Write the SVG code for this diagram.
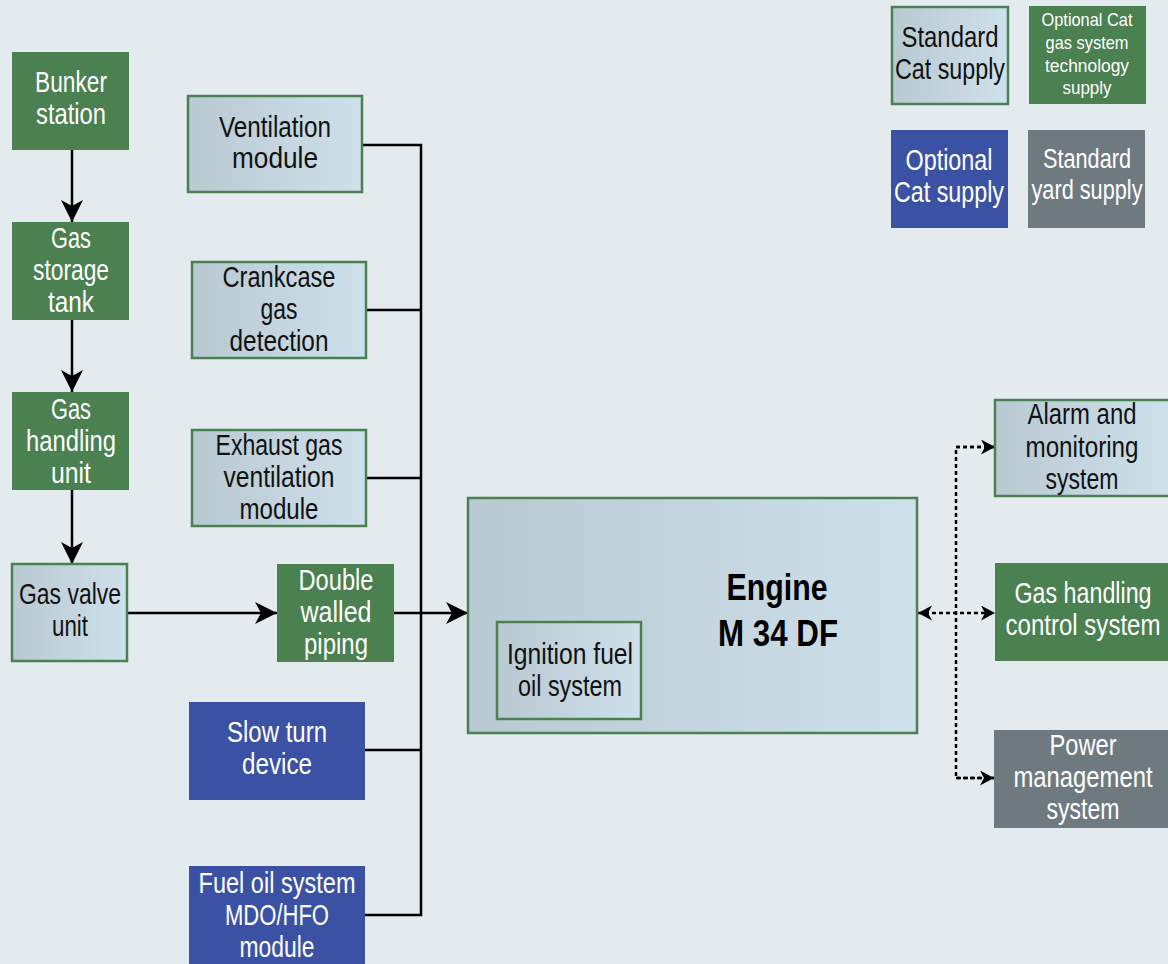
<svg xmlns="http://www.w3.org/2000/svg" width="1168" height="964" viewBox="0 0 1168 964">
<defs>
<linearGradient id="gr" x1="0" y1="0" x2="1" y2="0">
<stop offset="0" stop-color="#b8c9d2"/>
<stop offset="1" stop-color="#cee0ea"/>
</linearGradient>
<marker id="ah" markerUnits="userSpaceOnUse" markerWidth="24" markerHeight="24" refX="22" refY="11" orient="auto">
<path d="M0,0 L22,11 L0,22 L6,11 Z" fill="#000"/>
</marker>
<marker id="ahs" markerUnits="userSpaceOnUse" markerWidth="16" markerHeight="16" refX="14" refY="7.5" orient="auto-start-reverse">
<path d="M0,0 L14,7.5 L0,15 L4,7.5 Z" fill="#000"/>
</marker>
<style>
.std{fill:url(#gr);stroke:#4b8152;stroke-width:2.5}
.grn{fill:#4b8050}
.blu{fill:#3b52a4}
.gry{fill:#6f7a80}
text{font-family:"Liberation Sans",Arial,sans-serif;font-size:29px;text-anchor:middle}
.dk{fill:#111}
.wt{fill:#fff}
.sm{font-size:19px}
.eng{font-size:37px;font-weight:bold;fill:#000}
.ln{fill:none;stroke:#000;stroke-width:2.5}
.dt{fill:none;stroke:#000;stroke-width:2.5;stroke-dasharray:4 3}
</style>
</defs>
<rect width="1168" height="964" fill="#e3ebef"/>

<g id="connectors">
<path class="ln" d="M362,145 H421 V915 H365"/>
<path class="ln" d="M366,310 H421"/>
<path class="ln" d="M366,478 H421"/>
<path class="ln" d="M365,750 H421"/>
<path class="ln" d="M394,613 H468" marker-end="url(#ah)"/>
<path class="ln" d="M127,613 H277" marker-end="url(#ah)"/>
<path class="ln" d="M72,150 V222" marker-end="url(#ah)"/>
<path class="ln" d="M72,320 V392" marker-end="url(#ah)"/>
<path class="ln" d="M72,490 V564" marker-end="url(#ah)"/>
<path class="dt" d="M995,447 H956 V778 H994"/>
<path class="dt" d="M956,447 H995" marker-end="url(#ahs)"/>
<path class="dt" d="M956,778 H994" marker-end="url(#ahs)"/>
<path class="dt" d="M918,613 H995" marker-start="url(#ahs)" marker-end="url(#ahs)"/>
</g>

<g id="bunker"><rect class="grn" x="12" y="52" width="117" height="98"/>
<text class="wt" x="71" y="92" textLength="72" lengthAdjust="spacingAndGlyphs">Bunker</text><text class="wt" x="71" y="124" textLength="70" lengthAdjust="spacingAndGlyphs">station</text></g>
<g id="storage"><rect class="grn" x="12" y="222" width="117" height="98"/>
<text class="wt" x="71" y="248" textLength="40" lengthAdjust="spacingAndGlyphs">Gas</text><text class="wt" x="71" y="280" textLength="76" lengthAdjust="spacingAndGlyphs">storage</text><text class="wt" x="71" y="312" textLength="46" lengthAdjust="spacingAndGlyphs">tank</text></g>
<g id="handling"><rect class="grn" x="12" y="392" width="117" height="98"/>
<text class="wt" x="71" y="419" textLength="40" lengthAdjust="spacingAndGlyphs">Gas</text><text class="wt" x="71" y="451" textLength="90" lengthAdjust="spacingAndGlyphs">handling</text><text class="wt" x="71" y="483" textLength="40" lengthAdjust="spacingAndGlyphs">unit</text></g>
<g id="valve"><rect class="std" x="12" y="564" width="115" height="97"/>
<text class="dk" x="70" y="604" textLength="102" lengthAdjust="spacingAndGlyphs">Gas valve</text><text class="dk" x="70" y="636" textLength="36" lengthAdjust="spacingAndGlyphs">unit</text></g>
<g id="piping"><rect class="grn" x="277" y="564" width="117" height="98"/>
<text class="wt" x="336" y="590" textLength="75" lengthAdjust="spacingAndGlyphs">Double</text><text class="wt" x="336" y="622" textLength="71" lengthAdjust="spacingAndGlyphs">walled</text><text class="wt" x="336" y="654" textLength="64" lengthAdjust="spacingAndGlyphs">piping</text></g>
<g id="ventilation"><rect class="std" x="188" y="96" width="174" height="96"/>
<text class="dk" x="275" y="137" textLength="112" lengthAdjust="spacingAndGlyphs">Ventilation</text><text class="dk" x="275" y="168" textLength="86" lengthAdjust="spacingAndGlyphs">module</text></g>
<g id="crankcase"><rect class="std" x="192" y="262" width="174" height="96"/>
<text class="dk" x="279" y="287" textLength="113" lengthAdjust="spacingAndGlyphs">Crankcase</text><text class="dk" x="279" y="319" textLength="37" lengthAdjust="spacingAndGlyphs">gas</text><text class="dk" x="279" y="351" textLength="99" lengthAdjust="spacingAndGlyphs">detection</text></g>
<g id="exhaust"><rect class="std" x="192" y="430" width="174" height="96"/>
<text class="dk" x="279" y="455" textLength="127" lengthAdjust="spacingAndGlyphs">Exhaust gas</text><text class="dk" x="279" y="487" textLength="111" lengthAdjust="spacingAndGlyphs">ventilation</text><text class="dk" x="279" y="519" textLength="79" lengthAdjust="spacingAndGlyphs">module</text></g>
<g id="slowturn"><rect class="blu" x="189" y="702" width="176" height="98"/>
<text class="wt" x="277" y="742" textLength="100" lengthAdjust="spacingAndGlyphs">Slow turn</text><text class="wt" x="277" y="774" textLength="70" lengthAdjust="spacingAndGlyphs">device</text></g>
<g id="fueloil"><rect class="blu" x="189" y="866" width="176" height="100"/>
<text class="wt" x="277" y="893" textLength="157" lengthAdjust="spacingAndGlyphs">Fuel oil system</text><text class="wt" x="277" y="925" textLength="104" lengthAdjust="spacingAndGlyphs">MDO/HFO</text><text class="wt" x="277" y="957" textLength="75" lengthAdjust="spacingAndGlyphs">module</text></g>
<g id="engine"><rect class="std" x="468" y="498" width="449" height="235"/>
<text class="eng" x="777" y="600" textLength="101" lengthAdjust="spacingAndGlyphs">Engine</text><text class="eng" x="778" y="646" textLength="120" lengthAdjust="spacingAndGlyphs">M 34 DF</text></g>
<g id="ignition"><rect class="std" x="497" y="622" width="144" height="97"/>
<text class="dk" x="570" y="664" textLength="126" lengthAdjust="spacingAndGlyphs">Ignition fuel</text><text class="dk" x="570" y="696" textLength="104" lengthAdjust="spacingAndGlyphs">oil system</text></g>
<g id="alarm"><rect class="std" x="995" y="400" width="175" height="96"/>
<text class="dk" x="1082" y="424" textLength="109" lengthAdjust="spacingAndGlyphs">Alarm and</text><text class="dk" x="1082" y="457" textLength="113" lengthAdjust="spacingAndGlyphs">monitoring</text><text class="dk" x="1082" y="489" textLength="73" lengthAdjust="spacingAndGlyphs">system</text></g>
<g id="gascontrol"><rect class="grn" x="995" y="563" width="173" height="98"/>
<text class="wt" x="1083" y="603" textLength="137" lengthAdjust="spacingAndGlyphs">Gas handling</text><text class="wt" x="1083" y="635" textLength="155" lengthAdjust="spacingAndGlyphs">control system</text></g>
<g id="power"><rect class="gry" x="994" y="730" width="174" height="98"/>
<text class="wt" x="1083" y="755" textLength="67" lengthAdjust="spacingAndGlyphs">Power</text><text class="wt" x="1083" y="787" textLength="139" lengthAdjust="spacingAndGlyphs">management</text><text class="wt" x="1083" y="819" textLength="73" lengthAdjust="spacingAndGlyphs">system</text></g>

<g id="legend-std"><rect class="std" x="892" y="7" width="116" height="97"/>
<text class="dk" x="950" y="47" textLength="97" lengthAdjust="spacingAndGlyphs">Standard</text><text class="dk" x="950" y="79" textLength="110" lengthAdjust="spacingAndGlyphs">Cat supply</text></g>
<g id="legend-gas"><rect class="grn" x="1029" y="6" width="117" height="98"/>
<text class="wt sm" x="1087" y="26" textLength="91" lengthAdjust="spacingAndGlyphs">Optional Cat</text><text class="wt sm" x="1087" y="49" textLength="83" lengthAdjust="spacingAndGlyphs">gas system</text><text class="wt sm" x="1087" y="72" textLength="84" lengthAdjust="spacingAndGlyphs">technology</text><text class="wt sm" x="1087" y="94" textLength="49" lengthAdjust="spacingAndGlyphs">supply</text></g>
<g id="legend-opt"><rect class="blu" x="891" y="130" width="117" height="98"/>
<text class="wt" x="949" y="170" textLength="87" lengthAdjust="spacingAndGlyphs">Optional</text><text class="wt" x="949" y="202" textLength="110" lengthAdjust="spacingAndGlyphs">Cat supply</text></g>
<g id="legend-yard"><rect class="gry" x="1028" y="130" width="117" height="98"/>
<text class="wt" x="1087" y="168" style="font-size:27px" textLength="88" lengthAdjust="spacingAndGlyphs">Standard</text><text class="wt" x="1087" y="199" style="font-size:27px" textLength="111" lengthAdjust="spacingAndGlyphs">yard supply</text></g>
</svg>
